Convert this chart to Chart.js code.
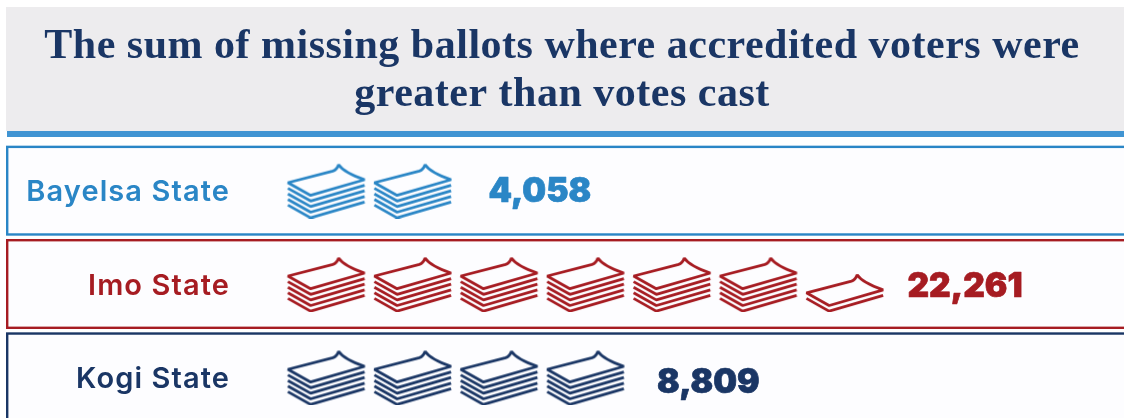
<!DOCTYPE html>
<html>
<head>
<meta charset="utf-8">
<title>Missing ballots</title>
<script src="https://cdn.jsdelivr.net/npm/chart.js@4"></script>
<style>
    html, body { margin: 0; padding: 0; background: #ffffff; overflow: hidden; width: 1124px; height: 418px; }
    canvas { display: block; }
</style>
</head>
<body>
<canvas id="ballot-chart" width="1124" height="424"></canvas>
<script>
const titleLines = ["The sum of missing ballots where accredited voters were", "greater than votes cast"];
const states = ["Bayelsa State", "Imo State", "Kogi State"];
const missingBallots = [4058, 22261, 8809];
const fullStacks = [2, 6, 4];
const thinStacks = [0, 1, 0];
const stateColors = ["#2a86c6", "#a61c22", "#1a3665"];

const valueGaps = [1.47, 1.39, 1.42]; // from the last stack to the middle of the number, in stack widths
const valueDrops = [1, 3, 6]; // numbers sit a little lower in the later rows
const NAVY = "#1a3665";

// one ballot stack: top sheet with a curled corner plus some sheets below it
function makeStack(color, layers) {
    const c = document.createElement("canvas");
    c.width = 80;
    c.height = 56;
    const g = c.getContext("2d");
    g.strokeStyle = color;
    g.lineWidth = 2.8;
    g.lineJoin = "bevel";
    g.lineCap = "butt";
    const step = 5.6;
    const top = 2 + (4 - layers) * step;
    g.translate(1.5, top);
    g.beginPath();
    g.moveTo(0, 18);
    g.lineTo(45, 6.3);
    g.quadraticCurveTo(49, 5, 50.7, 0);
    g.quadraticCurveTo(56, 8, 76.7, 15);
    g.lineTo(22.7, 30.7);
    g.closePath();
    g.stroke();
    for (let k = 1; k <= layers; k++) {
        g.beginPath();
        g.moveTo(0, 18 + k * step);
        g.lineTo(22.7, 30.7 + k * step);
        g.lineTo(76.7, 15 + k * step);
        g.stroke();
    }
    return c;
}

const datasets = states.map((state, i) => {
    const full = makeStack(stateColors[i], 4);
    const thin = makeStack(stateColors[i], 1);
    const points = [];
    const styles = [];
    for (let n = 0; n < fullStacks[i] + thinStacks[i]; n++) {
        points.push({ x: n + 1, y: state });
        styles.push(n < fullStacks[i] ? full : thin);
    }
    return {
        label: state,
        data: points,
        pointStyle: styles,
        showLine: false
    };
});

// header band, blue rule and the row frames
const panels = {
    id: "panels",
    beforeDraw(chart) {
        const ctx = chart.ctx;
        const y = chart.scales.y;
        ctx.save();
        ctx.fillStyle = "#edecee";
        ctx.fillRect(6, 7, 1118, 124);
        ctx.fillStyle = "#4094d2";
        ctx.fillRect(7, 131, 1117, 6);
        states.forEach((state, i) => {
            const mid = y.getPixelForValue(i);
            ctx.fillStyle = "#fdfdff";
            ctx.fillRect(7, mid - 45, 1120, 90);
            ctx.strokeStyle = stateColors[i];
            ctx.lineWidth = 2.4;
            ctx.strokeRect(7.2, mid - 43.8, 1125, 87.6);
        });
        ctx.restore();
        ctx.letterSpacing = "0.5px"; // title is the only text drawn before the datasets
    }
};

// number printed to the right of each row of stacks
const valueLabels = {
    id: "valueLabels",
    afterDatasetsDraw(chart) {
        const ctx = chart.ctx;
        const { x, y } = chart.scales;
        ctx.save();
        ctx.letterSpacing = "0px";
        ctx.font = "900 33.5px Inter";
        ctx.textAlign = "center";
        ctx.textBaseline = "middle";
        ctx.lineWidth = 0.7;
        ctx.lineJoin = "round";
        states.forEach((state, i) => {
            const count = fullStacks[i] + thinStacks[i];
            const text = missingBallots[i].toLocaleString("en-US");
            const px = x.getPixelForValue(count + valueGaps[i]);
            const py = y.getPixelForValue(i) + valueDrops[i];
            ctx.fillStyle = stateColors[i];
            ctx.strokeStyle = stateColors[i];
            ctx.fillText(text, px, py);
            ctx.strokeText(text, px, py);
        });
        ctx.restore();
        ctx.letterSpacing = "1.1px"; // axis labels have z 1, so they come next
    },
    afterDraw(chart) {
        chart.ctx.letterSpacing = "0px";
    }
};

new Chart(document.getElementById("ballot-chart"), {
    type: "scatter",
    data: { labels: states, datasets: datasets },
    plugins: [panels, valueLabels],
    options: {
        responsive: false,
        animation: false,
        events: [],
        layout: { padding: 0, autoPadding: false },
        plugins: {
            legend: { display: false },
            tooltip: { enabled: false },
            title: {
                display: true,
                text: titleLines,
                color: NAVY,
                font: { family: "'Liberation Serif'", size: 42, weight: "bold", lineHeight: 1.143 },
                padding: { top: 23.5, bottom: 24.5 }
            }
        },
        scales: {
            x: {
                type: "linear",
                display: false,
                min: 0,
                max: 10.23
            },
            y: {
                type: "category",
                labels: states,
                offset: true,
                afterFit(scale) {
                    scale.width = 240;
                    scale.paddingTop = 0;
                    scale.paddingBottom = 0;
                },
                border: { display: false },
                grid: { display: false },
                ticks: {
                    z: 1,
                    padding: 2,
                    labelOffset: 2,
                    color: (c) => stateColors[c.index],
                    font: { family: "Inter", size: 29, weight: "600" }
                }
            }
        }
    }
});
</script>
</body>
</html>
